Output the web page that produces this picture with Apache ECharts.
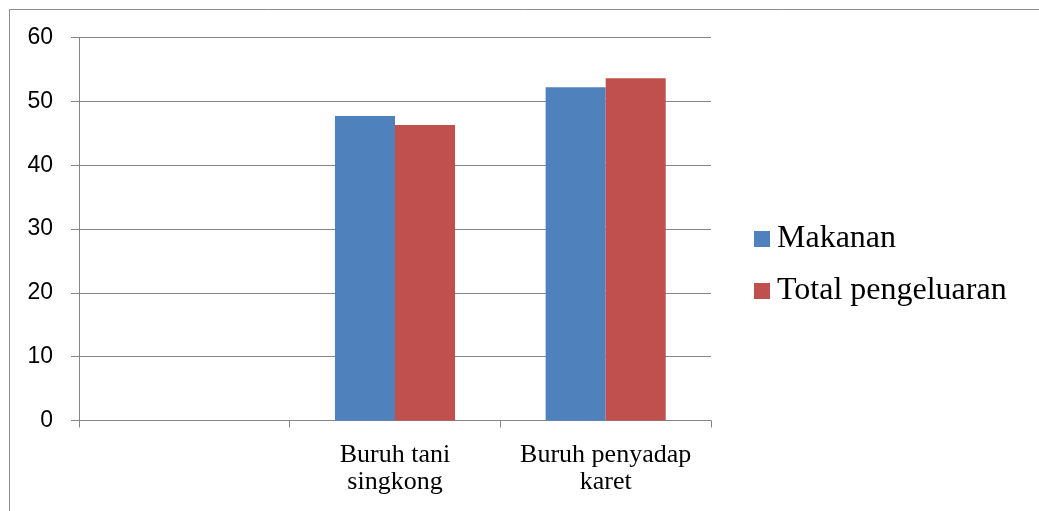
<!DOCTYPE html>
<html>
<head>
<meta charset="utf-8">
<script src="https://cdn.jsdelivr.net/npm/echarts@6/dist/echarts.min.js"></script>
<style>html,body{margin:0;padding:0;background:#fff;}#c{width:1039px;height:511px;}</style>
</head>
<body>
<div id="c"></div>
<script>
const categories = ['', 'Buruh tani\nsingkong', 'Buruh penyadap\nkaret'];
const makanan = [null, 47.7, 52.2];
const totalPengeluaran = [null, 46.3, 53.6];
const seriesNames = ['Makanan', 'Total pengeluaran'];

const chart = echarts.init(document.getElementById('c'), null, {renderer: 'canvas'});
chart.setOption({
  animation: false,
  backgroundColor: '#fff',
  graphic: [{
    type: 'rect', shape: {x: 9.5, y: 9.5, width: 1100, height: 600},
    style: {fill: 'none', stroke: '#8c8c8c', lineWidth: 1}, silent: true, z: -1
  }],
  grid: {left: 79, right: 328, top: 37.5, bottom: 90.5, containLabel: false},
  legend: {
    orient: 'vertical', left: 754, top: 223, itemWidth: 16, itemHeight: 16, itemGap: 20,
    icon: 'rect', padding: 0,
    textStyle: {fontFamily: 'Liberation Serif', fontSize: 32, color: '#000', padding: [0, 0, 0, 2]},
    data: seriesNames
  },
  xAxis: {
    type: 'category', data: categories,
    axisLine: {lineStyle: {color: '#868686', width: 1}},
    axisTick: {show: true, length: 7, alignWithLabel: false, lineStyle: {color: '#868686'}},
    axisLabel: {fontFamily: 'Liberation Serif', fontSize: 26, color: '#000', lineHeight: 27, margin: 21, interval: 0}
  },
  yAxis: {
    type: 'value', min: 0, max: 60, interval: 10,
    axisLine: {show: true, lineStyle: {color: '#868686', width: 1}},
    axisTick: {show: true, length: 8, lineStyle: {color: '#868686'}},
    splitLine: {lineStyle: {color: '#868686', width: 1}},
    axisLabel: {fontFamily: 'Liberation Sans', fontSize: 23, color: '#000', margin: 26}
  },
  series: [
    {name: seriesNames[0], type: 'bar', data: makanan, barGap: '0%', barCategoryGap: '43%',
     itemStyle: {color: '#4F81BD'}},
    {name: seriesNames[1], type: 'bar', data: totalPengeluaran, barGap: '0%', barCategoryGap: '43%',
     itemStyle: {color: '#C0504D'}}
  ]
});
</script>
</body>
</html>
